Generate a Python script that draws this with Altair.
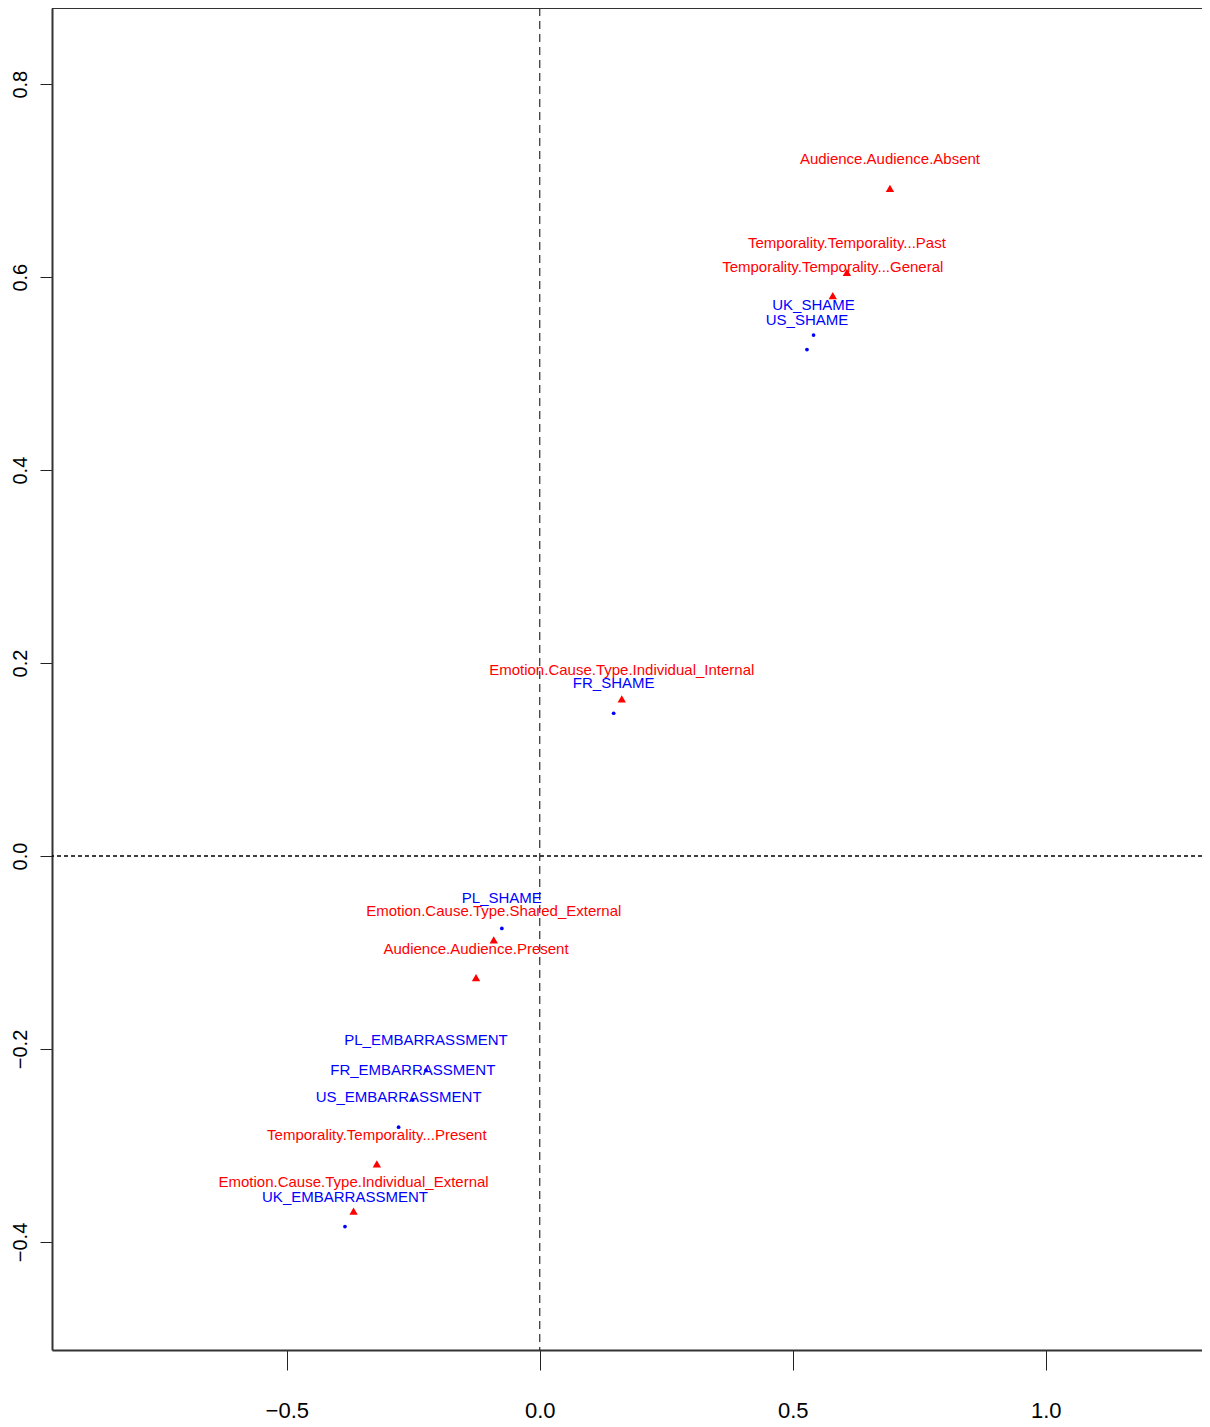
import altair as alt
import pandas as pd

# Red triangles (column categories)
cat_names = [
    "Audience.Audience.Absent",
    "Temporality.Temporality...Past",
    "Temporality.Temporality...General",
    "Emotion.Cause.Type.Individual_Internal",
    "Emotion.Cause.Type.Shared_External",
    "Audience.Audience.Present",
    "Temporality.Temporality...Present",
    "Emotion.Cause.Type.Individual_External",
]
cat_x = [0.692, 0.607, 0.579, 0.162, -0.091, -0.126, -0.322, -0.368]
cat_y = [0.692, 0.605, 0.581, 0.163, -0.087, -0.126, -0.319, -0.368]

# Blue dots (row categories)
row_names = [
    "UK_SHAME", "US_SHAME", "FR_SHAME", "PL_SHAME",
    "PL_EMBARRASSMENT", "FR_EMBARRASSMENT", "US_EMBARRASSMENT", "UK_EMBARRASSMENT",
]
row_x = [0.541, 0.528, 0.146, -0.075, -0.225, -0.251, -0.279, -0.385]
row_y = [0.540, 0.525, 0.148, -0.075, -0.222, -0.253, -0.281, -0.384]

x_ticks = [-0.5, 0.0, 0.5, 1.0]
y_ticks = [-0.4, -0.2, 0.0, 0.2, 0.4, 0.6, 0.8]
x_domain = [-0.964, 1.3087]
y_domain = [-0.512, 0.879]

cats = pd.DataFrame({"label": cat_names, "x": cat_x, "y": cat_y})
rows = pd.DataFrame({"label": row_names, "x": row_x, "y": row_y})

FONT = "Liberation Sans"

xs = alt.Scale(domain=x_domain, nice=False, zero=False)
ys = alt.Scale(domain=y_domain, nice=False, zero=False)

x_axis = alt.Axis(values=x_ticks, format=".1f", title=None, grid=False,
                  domainColor="#333", domainWidth=2, tickColor="#222", tickSize=20,
                  tickWidth=1, labelFontSize=22, labelFont=FONT, labelColor="#000",
                  labelPadding=30, labelFlush=False)
y_axis = alt.Axis(values=y_ticks, format=".1f", title=None, grid=False,
                  domainColor="#333", domainWidth=2, tickColor="#222", tickSize=12,
                  tickWidth=1, labelFontSize=20, labelFont=FONT, labelColor="#000",
                  labelAngle=270, labelAlign="center", labelBaseline="bottom",
                  labelPadding=10, labelFlush=False)

base_x = alt.X("x:Q", scale=xs, axis=x_axis)
base_y = alt.Y("y:Q", scale=ys, axis=y_axis)

vline = alt.Chart(pd.DataFrame({"x": [0.0]})).mark_rule(
    color="#000", strokeDash=[8, 5], strokeWidth=1
).encode(x=alt.X("x:Q", scale=xs))
hline = alt.Chart(pd.DataFrame({"y": [0.0]})).mark_rule(
    color="#000", strokeDash=[4, 3], strokeWidth=1.5
).encode(y=alt.Y("y:Q", scale=ys))

top_border = alt.Chart(pd.DataFrame({"y": [y_domain[1]]})).mark_rule(
    color="#333", strokeWidth=2
).encode(y=alt.Y("y:Q", scale=ys))

cat_pts = alt.Chart(cats).mark_point(
    shape="triangle-up", filled=True, color="#FF0000", size=70, opacity=1
).encode(x=base_x, y=base_y)
row_pts = alt.Chart(rows).mark_point(
    shape="circle", filled=True, color="#0000FF", size=14, opacity=1
).encode(x=base_x, y=base_y)

cat_txt = alt.Chart(cats).mark_text(
    color="#FF0000", font=FONT, fontSize=15, dy=-29, align="center", baseline="middle"
).encode(x=base_x, y=base_y, text="label:N")
row_txt = alt.Chart(rows).mark_text(
    color="#0000FF", font=FONT, fontSize=15, dy=-30, align="center", baseline="middle"
).encode(x=base_x, y=base_y, text="label:N")

chart = alt.layer(
    vline, hline, top_border, row_pts, cat_pts, cat_txt, row_txt
).properties(
    width=1150, height=1342,
    autosize=alt.AutoSizeParams(type="none"),
    padding={"left": 44, "top": 0, "right": 0, "bottom": 74},
    background="white",
).configure_view(stroke=None)

chart.save("out.html", embed_options={"renderer": "svg", "actions": False})
